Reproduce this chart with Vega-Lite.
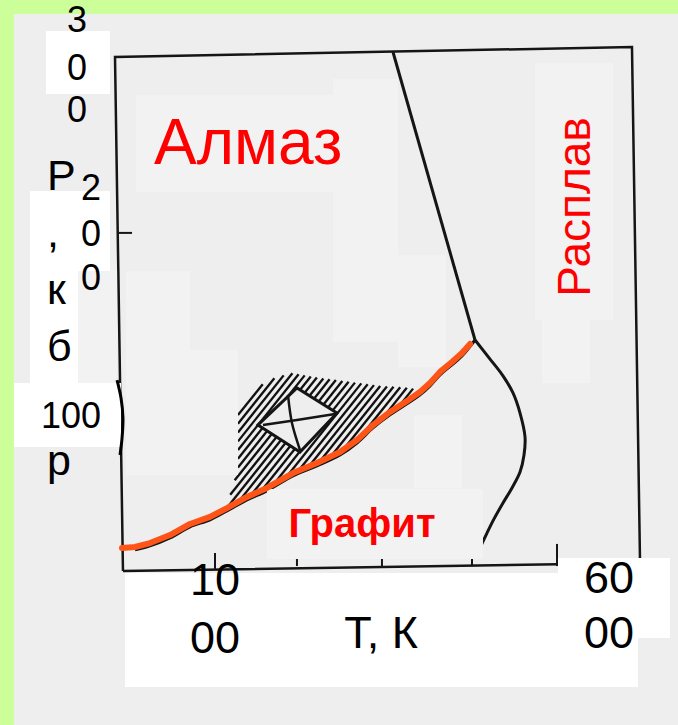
{
  "$schema": "https://vega.github.io/schema/vega-lite/v6.json",
  "width": 678,
  "height": 725,
  "autosize": {"type": "fit", "contains": "padding"},
  "padding": 0,
  "background": "#ccff99",
  "config": {"view": {"stroke": null}},
  "encoding": {
    "x": {"field": "T", "type": "quantitative", "scale": {"domain": [-1500, 6500], "nice": false, "zero": false}, "axis": null},
    "y": {"field": "P", "type": "quantitative", "scale": {"domain": [-72, 328], "nice": false, "zero": false}, "axis": null}
  },
  "layer": [
    {
      "data": {"values": [{"T": -1335, "P": 320.3, "T2": 6500, "P2": -72}]},
      "mark": {"type": "rect", "color": "#eeeeee"},
      "encoding": {"x2": {"field": "T2"}, "y2": {"field": "P2"}}
    },
    {
      "data": {"values": [
        {"T": -49, "P": 13.0, "i": 0}, {"T": -143, "P": 296.5, "i": 1}, {"T": 5957, "P": 302.1, "i": 2},
        {"T": 6052, "P": 17.4, "i": 3}, {"T": -49, "P": 13.0, "i": 4}
      ]},
      "mark": {"type": "line", "color": "#151515", "strokeWidth": 2.5},
      "encoding": {"order": {"field": "i"}}
    },
    {
      "data": {"values": [
        {"T": -108, "P": 199.5, "T2": 58, "P2": 199.5},
        {"T": 1037, "P": 22.9, "T2": 1037, "P2": 14.1},
        {"T": 2004, "P": 20.7, "T2": 2004, "P2": 15.7},
        {"T": 3007, "P": 20.7, "T2": 3007, "P2": 15.7},
        {"T": 4069, "P": 20.7, "T2": 4069, "P2": 15.7},
        {"T": 5072, "P": 27.9, "T2": 5072, "P2": 15.7}
      ]},
      "mark": {"type": "rule", "color": "#151515", "strokeWidth": 2},
      "encoding": {"x2": {"field": "T2"}, "y2": {"field": "P2"}}
    },
    {
      "data": {"values": [
        {"g": "DL", "i": 0, "T": 3137, "P": 299.3}, {"g": "DL", "i": 1, "T": 4105, "P": 140.4},
        {"g": "GL", "i": 0, "T": 4105, "P": 140.4}, {"g": "GL", "i": 1, "T": 4282, "P": 129.9},
        {"g": "GL", "i": 2, "T": 4435, "P": 120.6}, {"g": "GL", "i": 3, "T": 4553, "P": 111.2},
        {"g": "GL", "i": 4, "T": 4636, "P": 100.1}, {"g": "GL", "i": 5, "T": 4695, "P": 86.9},
        {"g": "GL", "i": 6, "T": 4683, "P": 77.0}, {"g": "GL", "i": 7, "T": 4636, "P": 67.6},
        {"g": "GL", "i": 8, "T": 4541, "P": 58.8}, {"g": "GL", "i": 9, "T": 4435, "P": 50.5},
        {"g": "GL", "i": 10, "T": 4329, "P": 41.7}, {"g": "GL", "i": 11, "T": 4246, "P": 33.9},
        {"g": "GL", "i": 12, "T": 4140, "P": 23.4},
        {"g": "GD", "i": 0, "T": 93, "P": 24.6}, {"g": "GD", "i": 1, "T": 270, "P": 26.8},
        {"g": "GD", "i": 2, "T": 506, "P": 31.2}, {"g": "GD", "i": 3, "T": 742, "P": 37.3},
        {"g": "GD", "i": 4, "T": 978, "P": 41.2}, {"g": "GD", "i": 5, "T": 1178, "P": 46.1},
        {"g": "GD", "i": 6, "T": 1414, "P": 52.2}, {"g": "GD", "i": 7, "T": 1650, "P": 57.2},
        {"g": "GD", "i": 8, "T": 1957, "P": 65.4}, {"g": "GD", "i": 9, "T": 2240, "P": 71.0},
        {"g": "GD", "i": 10, "T": 2512, "P": 77.0}, {"g": "GD", "i": 11, "T": 2712, "P": 83.6},
        {"g": "GD", "i": 12, "T": 2901, "P": 91.9}, {"g": "GD", "i": 13, "T": 3102, "P": 99.1},
        {"g": "GD", "i": 14, "T": 3302, "P": 105.2}, {"g": "GD", "i": 15, "T": 3456, "P": 110.1},
        {"g": "GD", "i": 16, "T": 3574, "P": 115.1}, {"g": "GD", "i": 17, "T": 3692, "P": 121.2},
        {"g": "GD", "i": 18, "T": 3833, "P": 126.7}, {"g": "GD", "i": 19, "T": 3951, "P": 131.6},
        {"g": "GD", "i": 20, "T": 4105, "P": 140.4}
      ]},
      "mark": {"type": "line", "color": "#151515", "strokeWidth": 3, "interpolate": "catmull-rom"},
      "encoding": {"detail": {"field": "g"}, "order": {"field": "i"}}
    },
    {
      "data": {"values": [
        {"T": 1308, "P": 99.0, "T2": 1600, "P2": 116.0},
        {"T": 1308, "P": 94.2, "T2": 1737, "P2": 119.3},
        {"T": 1308, "P": 89.4, "T2": 1847, "P2": 120.9},
        {"T": 1308, "P": 84.5, "T2": 1950, "P2": 122.1},
        {"T": 1308, "P": 79.7, "T2": 2023, "P2": 121.5},
        {"T": 1308, "P": 74.9, "T2": 2095, "P2": 120.9},
        {"T": 1308, "P": 70.1, "T2": 2167, "P2": 120.3},
        {"T": 1269, "P": 63.0, "T2": 2239, "P2": 119.7},
        {"T": 1216, "P": 55.0, "T2": 2315, "P2": 119.2},
        {"T": 1167, "P": 47.2, "T2": 2389, "P2": 118.8},
        {"T": 1283, "P": 49.3, "T2": 2463, "P2": 118.3},
        {"T": 1430, "P": 53.0, "T2": 2539, "P2": 117.8},
        {"T": 1558, "P": 55.7, "T2": 2613, "P2": 117.4},
        {"T": 1694, "P": 58.8, "T2": 2688, "P2": 116.9},
        {"T": 1846, "P": 62.9, "T2": 2763, "P2": 116.5},
        {"T": 1993, "P": 66.6, "T2": 2838, "P2": 116.0},
        {"T": 2118, "P": 69.1, "T2": 2912, "P2": 115.5},
        {"T": 2240, "P": 71.4, "T2": 2986, "P2": 115.0},
        {"T": 2375, "P": 74.5, "T2": 3065, "P2": 114.8},
        {"T": 2507, "P": 77.4, "T2": 3143, "P2": 114.6},
        {"T": 2745, "P": 86.5, "T2": 3222, "P2": 114.3},
        {"T": 2970, "P": 94.7, "T2": 3300, "P2": 114.1},
        {"T": 3169, "P": 101.6, "T2": 3374, "P2": 113.6},
        {"T": 3359, "P": 107.9, "T2": 3433, "P2": 112.2}
      ]},
      "mark": {"type": "rule", "color": "#111111", "strokeWidth": 2.3},
      "encoding": {"x2": {"field": "T2"}, "y2": {"field": "P2"}}
    },
    {
      "data": {"values": [{"T": 2016, "P": 96.3}]},
      "mark": {"type": "point", "shape": "M -1 0.125 L -0.025 -0.8 L 0.975 -0.175 L 0.05 0.8 Z", "size": 6400, "filled": true, "fill": "#eeeeee", "stroke": "#151515", "strokeWidth": 3, "opacity": 1, "fillOpacity": 1, "strokeOpacity": 1}
    },
    {
      "data": {"values": [
        {"g": "a", "i": 0, "T": 1603, "P": 93.5}, {"g": "a", "i": 1, "T": 2004, "P": 96.3}, {"g": "a", "i": 2, "T": 2453, "P": 99.6},
        {"g": "b", "i": 0, "T": 1898, "P": 110.1}, {"g": "b", "i": 1, "T": 1945, "P": 94.6}, {"g": "b", "i": 2, "T": 2040, "P": 79.7}
      ]},
      "mark": {"type": "line", "color": "#151515", "strokeWidth": 2.5, "interpolate": "catmull-rom"},
      "encoding": {"detail": {"field": "g"}, "order": {"field": "i"}}
    },
    {
      "data": {"values": [
        {"T": 105, "T2": 2429, "P": 275.6, "P2": 222.1},
        {"T": 2429, "T2": 3196, "P": 284.4, "P2": 187.3},
        {"T": 2429, "T2": 3762, "P": 187.3, "P2": 139.3},
        {"T": 3196, "T2": 3762, "P": 139.3, "P2": 125.5},
        {"T": -13, "T2": 742, "P": 178.5, "P2": 134.9},
        {"T": -13, "T2": 1308, "P": 134.9, "P2": 65.9},
        {"T": 4813, "T2": 5733, "P": 293.2, "P2": 151.4},
        {"T": 4895, "T2": 5462, "P": 151.4, "P2": 116.7},
        {"T": 3385, "T2": 3951, "P": 99.0, "P2": 58.8},
        {"T": 1650, "T2": 4199, "P": 58.2, "P2": 19.6},
        {"T": -580, "T2": -119, "P": 179.0, "P2": 116.7}
      ]},
      "mark": {"type": "rect", "color": "#f2f2f2"},
      "encoding": {"x2": {"field": "T2"}, "y2": {"field": "P2"}}
    },
    {
      "data": {"values": [
        {"T": -957, "T2": -202, "P": 310.9, "P2": 276.1},
        {"T": -1146, "T2": -202, "P": 222.6, "P2": 178.5},
        {"T": -1146, "T2": -580, "P": 178.5, "P2": 116.7},
        {"T": -1335, "T2": -72, "P": 116.7, "P2": 81.4},
        {"T": -25, "T2": 6028, "P": 11.9, "P2": -51.0},
        {"T": 5084, "T2": 6406, "P": 20.1, "P2": -24.0}
      ]},
      "mark": {"type": "rect", "color": "#ffffff"},
      "encoding": {"x2": {"field": "T2"}, "y2": {"field": "P2"}}
    },
    {
      "data": {"values": [
        {"i": 0, "T": -119, "P": 118.3}, {"i": 1, "T": -72, "P": 108.4}, {"i": 2, "T": -49, "P": 97.4},
        {"i": 3, "T": -60, "P": 86.3}, {"i": 4, "T": -84, "P": 77.0}
      ]},
      "mark": {"type": "line", "color": "#000000", "strokeWidth": 3, "interpolate": "catmull-rom"},
      "encoding": {"order": {"field": "i"}}
    },
    {
      "data": {"values": [
        {"i": 0, "T": -60, "P": 25.7}, {"i": 1, "T": 93, "P": 26.2}, {"i": 2, "T": 270, "P": 28.4},
        {"i": 3, "T": 506, "P": 32.8}, {"i": 4, "T": 742, "P": 38.9}, {"i": 5, "T": 978, "P": 42.8},
        {"i": 6, "T": 1178, "P": 47.7}, {"i": 7, "T": 1414, "P": 53.8}, {"i": 8, "T": 1650, "P": 58.8},
        {"i": 9, "T": 1957, "P": 67.0}, {"i": 10, "T": 2240, "P": 72.6}, {"i": 11, "T": 2512, "P": 78.6},
        {"i": 12, "T": 2712, "P": 85.2}, {"i": 13, "T": 2901, "P": 93.5}, {"i": 14, "T": 3102, "P": 100.7},
        {"i": 15, "T": 3302, "P": 106.8}, {"i": 16, "T": 3456, "P": 111.7}, {"i": 17, "T": 3574, "P": 116.7},
        {"i": 18, "T": 3692, "P": 122.8}, {"i": 19, "T": 3833, "P": 128.3}, {"i": 20, "T": 3951, "P": 133.2},
        {"i": 21, "T": 4046, "P": 138.2}
      ]},
      "mark": {"type": "line", "color": "#ff5417", "strokeWidth": 6, "strokeCap": "round", "strokeJoin": "round"},
      "encoding": {"order": {"field": "i"}}
    },
    {
      "data": {"values": [{"T": 317, "P": 237.5, "label": "Алмаз"}]},
      "mark": {"type": "text", "font": "Liberation Sans", "fontSize": 64, "color": "#ff0000", "align": "left", "baseline": "alphabetic"},
      "encoding": {"text": {"field": "label"}}
    },
    {
      "data": {"values": [{"T": 5462, "P": 213.8, "label": "Расплав"}]},
      "mark": {"type": "text", "font": "Liberation Sans", "fontSize": 46, "color": "#ff0000", "align": "center", "baseline": "alphabetic", "angle": 270},
      "encoding": {"text": {"field": "label"}}
    },
    {
      "data": {"values": [{"T": 2771, "P": 31.7, "label": "Графит"}]},
      "mark": {"type": "text", "font": "Liberation Sans", "fontSize": 40, "fontWeight": "bold", "color": "#ff0000", "align": "center", "baseline": "alphabetic"},
      "encoding": {"text": {"field": "label"}}
    },
    {
      "data": {"values": [
        {"T": -591, "P": 310.3, "label": "3"}, {"T": -591, "P": 283.9, "label": "0"}, {"T": -591, "P": 260.7, "label": "0"},
        {"T": -426, "P": 217.7, "label": "2"}, {"T": -426, "P": 192.3, "label": "0"}, {"T": -426, "P": 168.0, "label": "0"},
        {"T": -662, "P": 91.9, "label": "100"}
      ]},
      "mark": {"type": "text", "font": "Liberation Sans", "fontSize": 36, "color": "#000000", "align": "center", "baseline": "alphabetic"},
      "encoding": {"text": {"field": "label"}}
    },
    {
      "data": {"values": [
        {"T": -945, "P": 223.2, "label": "Р"}, {"T": -945, "P": 191.7, "label": ","}, {"T": -945, "P": 160.3, "label": "к"},
        {"T": -945, "P": 128.8, "label": "б"}, {"T": -945, "P": 65.9, "label": "р"}
      ]},
      "mark": {"type": "text", "font": "Liberation Sans", "fontSize": 43, "color": "#000000", "align": "left", "baseline": "alphabetic"},
      "encoding": {"text": {"field": "label"}}
    },
    {
      "data": {"values": [
        {"T": 1037, "P": -0.3, "label": "10"}, {"T": 1037, "P": -32.3, "label": "00"},
        {"T": 2996, "P": -29.5, "label": "Т, К"},
        {"T": 5686, "P": 0.8, "label": "60"}, {"T": 5686, "P": -29.5, "label": "00"}
      ]},
      "mark": {"type": "text", "font": "Liberation Sans", "fontSize": 45, "color": "#000000", "align": "center", "baseline": "alphabetic"},
      "encoding": {"text": {"field": "label"}}
    }
  ]
}
